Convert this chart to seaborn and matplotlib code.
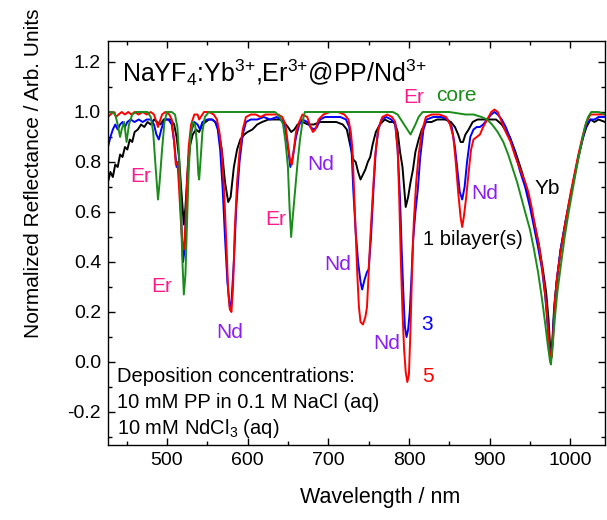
import matplotlib
matplotlib.use('Agg')
import matplotlib.pyplot as plt
import seaborn as sns
import pandas as pd
from matplotlib.ticker import MultipleLocator, FormatStrFormatter

# espectros de reflectancia
wl_1 = [427, 430, 433, 436, 439, 442, 445, 448, 451, 454, 457, 460, 464, 468, 472, 476, 480, 484, 488, 492,
        496, 500, 505, 509, 512, 515, 518, 521, 523, 526, 529, 532, 536, 540, 544, 548, 552, 556, 560, 564,
        568, 572, 576, 579, 583, 587, 591, 596, 600, 606, 612, 618, 626, 634, 640, 645, 650, 654, 658, 662,
        668, 675, 682, 690, 700, 710, 718, 723, 727, 731, 734, 737, 740, 743, 746, 749, 752, 755, 759, 764,
        770, 776, 782, 786, 789, 792, 794, 796, 799, 802, 805, 808, 812, 816, 821, 828, 835, 845, 852, 857,
        861, 864, 867, 870, 874, 879, 885, 892, 900, 908, 915, 925, 932, 940, 948, 955, 961, 966, 970, 973,
        975, 976.5, 978, 980, 983, 988, 994, 1000, 1005, 1010, 1016, 1020, 1025, 1030, 1035, 1043]
r_1 = [0.72, 0.76, 0.74, 0.79, 0.78, 0.83, 0.82, 0.86, 0.85, 0.89, 0.88, 0.92, 0.93, 0.95, 0.94, 0.96, 0.95, 0.97, 0.96, 0.95,
       0.97, 0.97, 0.97, 0.95, 0.90, 0.82, 0.68, 0.55, 0.62, 0.78, 0.87, 0.91, 0.93, 0.92, 0.95, 0.96, 0.97, 0.97, 0.96, 0.93,
       0.85, 0.72, 0.64, 0.66, 0.78, 0.85, 0.89, 0.91, 0.92, 0.93, 0.95, 0.96, 0.97, 0.97, 0.97, 0.96, 0.94, 0.92, 0.93, 0.95,
       0.96, 0.95, 0.95, 0.96, 0.96, 0.96, 0.95, 0.93, 0.87, 0.81, 0.80, 0.76, 0.73, 0.75, 0.77, 0.80, 0.82, 0.87, 0.92, 0.95,
       0.97, 0.96, 0.96, 0.92, 0.84, 0.78, 0.70, 0.62, 0.66, 0.72, 0.77, 0.84, 0.89, 0.93, 0.96, 0.96, 0.97, 0.97, 0.96, 0.94,
       0.91, 0.88, 0.88, 0.91, 0.93, 0.96, 0.97, 0.97, 0.97, 0.97, 0.95, 0.90, 0.84, 0.76, 0.67, 0.56, 0.47, 0.37, 0.28, 0.17,
       0.06, 0.02, 0.10, 0.22, 0.32, 0.45, 0.56, 0.66, 0.74, 0.82, 0.90, 0.94, 0.97, 0.96, 0.97, 0.96]

wl_3 = [427, 430, 433, 436, 439, 442, 445, 448, 451, 455, 460, 465, 470, 475, 480, 484, 487, 490, 493, 497,
        502, 506, 509, 512, 514, 516, 518, 520, 522, 524, 527, 530, 534, 538, 541, 544, 550, 556, 560, 563,
        566, 569, 572, 575, 578, 580, 583, 586, 590, 594, 598, 604, 612, 620, 628, 636, 642, 646, 650, 653,
        656, 660, 664, 668, 674, 678, 682, 686, 690, 696, 705, 715, 722, 726, 729, 731, 734, 737, 740, 742,
        745, 748, 750, 753, 756, 759, 762, 766, 772, 778, 783, 786, 789, 791, 793, 795, 797, 799, 801, 803,
        805, 808, 811, 814, 818, 822, 830, 840, 848, 853, 857, 860, 863, 866, 869, 872, 876, 880, 884, 888,
        892, 897, 902, 906, 910, 915, 920, 926, 932, 938, 944, 950, 955, 960, 965, 969, 972, 974, 976, 978,
        980, 983, 988, 994, 1000, 1005, 1010, 1015, 1020, 1025, 1030, 1035, 1043]
r_3 = [0.86, 0.90, 0.93, 0.95, 0.93, 0.95, 0.96, 0.94, 0.96, 0.97, 0.96, 0.97, 0.96, 0.97, 0.97, 0.95, 0.91, 0.89, 0.93, 0.97,
       0.97, 0.95, 0.88, 0.78, 0.80, 0.72, 0.55, 0.40, 0.45, 0.62, 0.82, 0.92, 0.96, 0.95, 0.93, 0.96, 0.97, 0.97, 0.96, 0.93,
       0.85, 0.70, 0.50, 0.32, 0.22, 0.24, 0.40, 0.62, 0.80, 0.91, 0.96, 0.97, 0.97, 0.98, 0.97, 0.98, 0.97, 0.95, 0.86, 0.78,
       0.82, 0.90, 0.95, 0.97, 0.96, 0.94, 0.93, 0.94, 0.97, 0.98, 0.98, 0.98, 0.97, 0.94, 0.84, 0.69, 0.52, 0.40, 0.32, 0.29,
       0.33, 0.36, 0.37, 0.50, 0.69, 0.85, 0.93, 0.97, 0.98, 0.97, 0.95, 0.85, 0.65, 0.45, 0.28, 0.14, 0.10, 0.13, 0.20, 0.33,
       0.48, 0.60, 0.69, 0.82, 0.93, 0.97, 0.98, 0.98, 0.97, 0.94, 0.86, 0.77, 0.68, 0.65, 0.70, 0.80, 0.90, 0.93, 0.94, 0.94,
       0.95, 0.97, 0.99, 1.00, 0.99, 0.97, 0.94, 0.89, 0.83, 0.76, 0.70, 0.62, 0.54, 0.46, 0.37, 0.26, 0.14, 0.06, 0.02, 0.08,
       0.20, 0.32, 0.45, 0.56, 0.66, 0.74, 0.82, 0.89, 0.95, 0.97, 0.97, 0.98, 0.98]

wl_5 = [427, 430, 434, 437, 440, 444, 448, 452, 456, 460, 465, 470, 475, 480, 484, 487, 489, 491, 494, 498,
        503, 506, 509, 511, 513, 515, 517, 519, 521, 523, 525, 527, 530, 534, 538, 540, 542, 546, 552, 558,
        562, 565, 568, 571, 574, 576, 578, 580, 582, 584, 587, 590, 594, 598, 604, 610, 616, 622, 630, 638,
        643, 647, 650, 653, 655, 657, 660, 664, 668, 674, 678, 681, 684, 688, 694, 702, 712, 720, 725, 728,
        730, 732, 734, 736, 738, 740, 743, 746, 748, 750, 752, 755, 758, 762, 767, 773, 779, 783, 786, 788,
        790, 792, 794, 796, 798, 800, 802, 804, 806, 809, 812, 816, 821, 828, 838, 846, 851, 855, 858, 861,
        864, 866, 868, 871, 874, 877, 880, 884, 888, 892, 897, 902, 906, 910, 915, 920, 926, 932, 938, 944,
        948, 952, 956, 961, 965, 968, 971, 973, 975, 977, 979, 981, 984, 989, 994, 1000, 1005, 1010, 1015, 1020,
        1025, 1030, 1035, 1043]
r_5 = [0.98, 0.99, 1.00, 0.98, 0.99, 1.00, 0.99, 1.00, 0.99, 1.00, 0.99, 1.00, 0.99, 1.00, 0.99, 0.96, 0.94, 0.96, 0.99, 1.00,
       0.99, 0.97, 0.88, 0.79, 0.80, 0.70, 0.58, 0.48, 0.45, 0.55, 0.72, 0.86, 0.95, 0.99, 0.99, 0.97, 0.98, 1.00, 1.00, 0.99,
       0.97, 0.92, 0.84, 0.68, 0.45, 0.28, 0.21, 0.20, 0.30, 0.52, 0.72, 0.84, 0.93, 0.98, 0.99, 0.99, 0.98, 0.99, 0.99, 0.99,
       0.98, 0.95, 0.87, 0.80, 0.79, 0.84, 0.92, 0.96, 0.99, 0.98, 0.94, 0.92, 0.93, 0.97, 0.99, 1.00, 1.00, 0.99, 0.97, 0.92,
       0.85, 0.68, 0.50, 0.35, 0.22, 0.16, 0.15, 0.18, 0.22, 0.35, 0.49, 0.66, 0.82, 0.93, 0.98, 0.99, 0.98, 0.96, 0.85, 0.65,
       0.40, 0.20, 0.05, -0.04, -0.08, -0.05, 0.14, 0.38, 0.56, 0.72, 0.83, 0.92, 0.98, 0.99, 0.99, 0.98, 0.95, 0.90, 0.80, 0.68,
       0.58, 0.54, 0.58, 0.66, 0.76, 0.85, 0.89, 0.90, 0.91, 0.94, 0.97, 1.00, 1.01, 1.00, 0.96, 0.92, 0.88, 0.82, 0.77, 0.72,
       0.68, 0.62, 0.55, 0.47, 0.38, 0.30, 0.20, 0.10, 0.03, 0.02, 0.12, 0.25, 0.35, 0.46, 0.56, 0.67, 0.75, 0.83, 0.90, 0.96,
       0.99, 0.99, 0.99, 0.99]

wl_core = [427, 432, 436, 439, 442, 444, 447, 450, 453, 457, 462, 470, 476, 480, 483, 486, 489, 491, 494, 497,
           500, 506, 510, 513, 515, 517, 519, 521, 523, 525, 527, 529, 532, 535, 537, 539, 540, 542, 544, 547,
           552, 560, 580, 600, 620, 634, 640, 644, 647, 650, 652, 654, 656, 659, 662, 665, 668, 671, 680, 700,
           720, 740, 760, 780, 786, 790, 794, 798, 802, 805, 808, 812, 817, 830, 850, 870, 880, 890, 897, 903,
           910, 917, 923, 929, 934, 939, 944, 950, 955, 960, 965, 969, 972, 975, 976, 978, 981, 984, 988, 993,
           998, 1003, 1008, 1013, 1018, 1022, 1026, 1035, 1043]
r_core = [1.00, 1.00, 0.99, 0.95, 0.90, 0.93, 0.96, 0.88, 0.95, 0.99, 1.00, 1.00, 1.00, 0.98, 0.92, 0.78, 0.65, 0.72, 0.85, 0.96,
          1.00, 1.00, 0.99, 0.94, 0.83, 0.65, 0.42, 0.27, 0.35, 0.56, 0.76, 0.89, 0.96, 0.95, 0.88, 0.75, 0.73, 0.82, 0.92, 0.98,
          1.00, 1.00, 1.00, 1.00, 1.00, 1.00, 0.98, 0.95, 0.88, 0.78, 0.62, 0.50, 0.58, 0.69, 0.80, 0.89, 0.96, 1.00, 1.00, 1.00,
          1.00, 1.00, 1.00, 1.00, 0.99, 0.97, 0.95, 0.93, 0.91, 0.93, 0.95, 0.98, 1.00, 1.00, 1.00, 0.99, 0.99, 0.98, 0.97, 0.95,
          0.92, 0.88, 0.83, 0.77, 0.72, 0.66, 0.60, 0.53, 0.45, 0.36, 0.25, 0.15, 0.07, 0.00, -0.01, 0.06, 0.18, 0.28, 0.38, 0.50,
          0.60, 0.69, 0.78, 0.86, 0.94, 0.98, 1.00, 1.00, 0.99]

sns.set_style('ticks')
plt.rcParams['font.family'] = ['Liberation Sans', 'DejaVu Sans']
plt.rcParams['mathtext.fontset'] = 'custom'
plt.rcParams['mathtext.rm'] = 'Liberation Sans'
plt.rcParams['mathtext.it'] = 'Liberation Sans:italic'
plt.rcParams['mathtext.bf'] = 'Liberation Sans:bold'
plt.rcParams['text.color'] = 'black'
plt.rcParams['axes.labelcolor'] = 'black'
plt.rcParams['axes.edgecolor'] = 'black'
plt.rcParams['xtick.color'] = 'black'
plt.rcParams['ytick.color'] = 'black'

fig = plt.figure(figsize=(6.07, 5.2), dpi=100)
ax = fig.add_axes([108/607, 75/520, 497/607, 404/520])

verde = '#1A8C1A'
series = [(wl_1, r_1, 'black'), (wl_3, r_3, '#0000FF'), (wl_5, r_5, '#FF0000'), (wl_core, r_core, verde)]
for wl, r, c in series:
    df = pd.DataFrame({'wl': wl, 'r': r})
    sns.lineplot(data=df, x='wl', y='r', color=c, lw=1.4, sort=False, estimator=None, ax=ax)

ax.set_xlim(427, 1043)
ax.set_ylim(-0.332, 1.284)
ax.xaxis.set_major_locator(MultipleLocator(100))
ax.xaxis.set_minor_locator(MultipleLocator(50))
ax.yaxis.set_major_locator(MultipleLocator(0.2))
ax.yaxis.set_minor_locator(MultipleLocator(0.1))
ax.yaxis.set_major_formatter(FormatStrFormatter('%.1f'))
ax.tick_params(which='both', direction='in', top=True, right=True, labelsize=14, width=1, pad=5)
ax.tick_params(which='major', length=5)
ax.tick_params(which='minor', length=3)
for s in ax.spines.values():
    s.set_linewidth(1)

ax.set_xlabel('Wavelength / nm', fontsize=15.5)
ax.set_ylabel('Normalized Reflectance / Arb. Units', fontsize=15)
ax.xaxis.set_label_coords(0.547, -0.105)
ax.yaxis.set_label_coords(-0.13, 0.673)

er = '#FF1A8C'
nd = '#8C1EF0'
ax.text(444, 1.156, r'NaYF$_4$:Yb$^{3{+}}$,Er$^{3{+}}$@PP/Nd$^{3{+}}$', fontsize=18, va='center', ha='left')
ax.text(467.7, 0.744, 'Er', color=er, fontsize=15, ha='center', va='center')
ax.text(493.8, 0.30, 'Er', color=er, fontsize=15, ha='center', va='center')
ax.text(578, 0.12, 'Nd', color=nd, fontsize=15, ha='center', va='center')
ax.text(635, 0.57, 'Er', color=er, fontsize=15, ha='center', va='center')
ax.text(690, 0.79, 'Nd', color=nd, fontsize=15, ha='center', va='center')
ax.text(712, 0.39, 'Nd', color=nd, fontsize=15, ha='center', va='center')
ax.text(772, 0.075, 'Nd', color=nd, fontsize=15, ha='center', va='center')
ax.text(894, 0.675, 'Nd', color=nd, fontsize=15, ha='center', va='center')
ax.text(805.6, 1.056, 'Er', color=er, fontsize=15, ha='center', va='center')
ax.text(859, 1.064, 'core', color=verde, fontsize=15, ha='center', va='center')
ax.text(971, 0.695, 'Yb', color='black', fontsize=15, ha='center', va='center')
ax.text(818, 0.49, '1 bilayer(s)', color='black', fontsize=14.5, ha='left', va='center')
ax.text(823, 0.15, '3', color='#0000FF', fontsize=15, ha='center', va='center')
ax.text(823, -0.06, '5', color='#FF0000', fontsize=15, ha='center', va='center')

ax.text(438, -0.06, 'Deposition concentrations:', fontsize=14.5, ha='left', va='center')
ax.text(438, -0.16, '10 mM PP in 0.1 M NaCl (aq)', fontsize=14.5, ha='left', va='center')
ax.text(438, -0.265, r'10 mM NdCl$_3$ (aq)', fontsize=14.5, ha='left', va='center')

fig.savefig('out.png', dpi=100)
